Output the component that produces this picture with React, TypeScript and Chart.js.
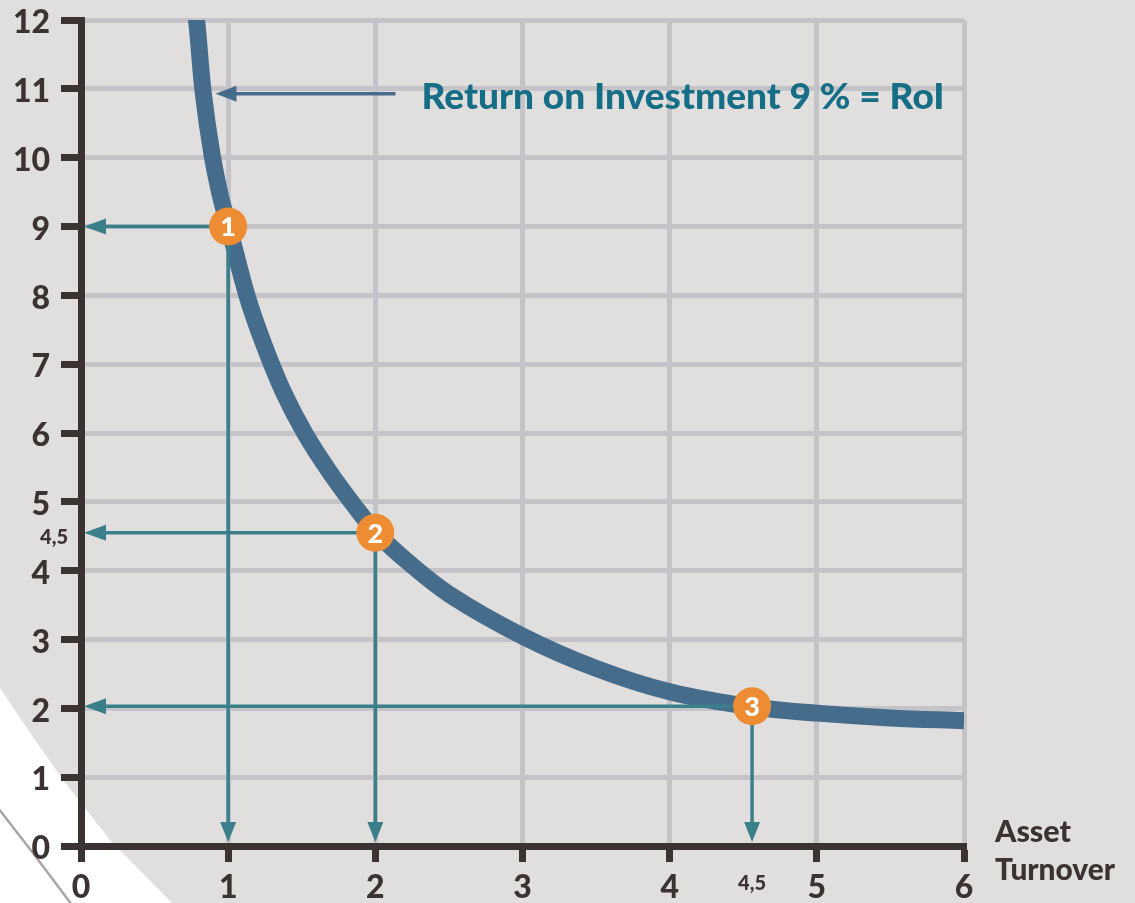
import React, { useEffect, useRef } from 'react';
import { Chart, registerables } from 'chart.js';

Chart.register(...registerables);

// ---- data ----
const curveX = [0.745, 0.785, 0.83, 0.89, 0.95, 1.0, 1.13, 1.24, 1.37, 1.52, 1.70, 1.88, 2.0, 2.17, 2.5, 3.0, 3.5, 4.0, 4.56, 5.0, 5.5, 6.0];
const curveY = [12.6, 12.0, 10.95, 10.05, 9.42, 9.03, 7.98, 7.3, 6.62, 6.0, 5.4, 4.88, 4.57, 4.22, 3.66, 3.05, 2.58, 2.24, 2.02, 1.93, 1.86, 1.82];

const markerX = [1, 2, 4.56];
const markerY = [9, 4.55, 2.03];
const markerLabels = ['1', '2', '3'];

const xTickValues = [0, 1, 2, 3, 4, 5, 6];
const yTickValues = [0, 1, 2, 3, 4, 5, 6, 7, 8, 9, 10, 11, 12];
const extraXTick = { value: 4.56, label: '4,5' };
const extraYTick = { value: 4.48, label: '4,5' };

const annotationText = 'Return on Investment 9 % = RoI';
const annotationArrowFromX = 2.137;
const annotationArrowToX = 0.914;
const annotationArrowY = 10.93;

const xAxisTitle = ['Asset', 'Turnover'];

// ---- styles ----
const BG = '#e1dede';
const AXIS = '#3b3331';
const GRID = '#c4c3c7';
const CURVE = '#466c8c';
const TEAL = '#3b7f8a';
const ANNO = '#156d86';
const ORANGE = '#ee8c33';
const FONT = 'Lato';

function fitText(ctx: CanvasRenderingContext2D, text: string, x: number, y: number, width: number) {
  const w = ctx.measureText(text).width;
  const s = width / w;
  ctx.save();
  ctx.translate(x, y);
  ctx.scale(s, 1);
  ctx.textAlign = 'left';
  ctx.fillText(text, 0, 0);
  ctx.restore();
}

function arrowHead(ctx: CanvasRenderingContext2D, tipX: number, tipY: number, dir: 'left' | 'down', len: number, half: number) {
  ctx.beginPath();
  if (dir === 'left') {
    ctx.moveTo(tipX, tipY);
    ctx.lineTo(tipX + len, tipY - half);
    ctx.lineTo(tipX + len, tipY + half);
  } else {
    ctx.moveTo(tipX, tipY);
    ctx.lineTo(tipX - half, tipY - len);
    ctx.lineTo(tipX + half, tipY - len);
  }
  ctx.closePath();
  ctx.fill();
}

const backgroundPlugin = {
  id: 'bgPlugin',
  beforeDraw(chart: any) {
    const ctx = chart.ctx as CanvasRenderingContext2D;
    const w = chart.width, h = chart.height;
    ctx.save();
    ctx.fillStyle = BG;
    ctx.fillRect(0, 0, w, h);
    ctx.fillStyle = '#ffffff';
    ctx.beginPath();
    ctx.moveTo(0, 688);
    ctx.lineTo(33, 737);
    ctx.lineTo(63, 780);
    ctx.lineTo(110, 840);
    ctx.lineTo(172, 903);
    ctx.lineTo(0, 903);
    ctx.closePath();
    ctx.fill();
    ctx.strokeStyle = '#aaa4a2';
    ctx.lineWidth = 2.5;
    ctx.beginPath();
    ctx.moveTo(-2, 808);
    ctx.lineTo(33, 853);
    ctx.lineTo(72, 905);
    ctx.stroke();
    ctx.restore();
  },
};

const overlayPlugin = {
  id: 'overlayPlugin',
  afterDatasetsDraw(chart: any) {
    const ctx = chart.ctx as CanvasRenderingContext2D;
    const xs = chart.scales.x, ys = chart.scales.y;
    const x0 = xs.getPixelForValue(0) + 3;
    const y0 = ys.getPixelForValue(0) - 4;
    ctx.save();
    // guide arrows
    ctx.strokeStyle = TEAL;
    ctx.fillStyle = TEAL;
    ctx.lineWidth = 3.5;
    markerX.forEach((mx, i) => {
      const px = xs.getPixelForValue(mx);
      const py = ys.getPixelForValue(markerY[i]);
      ctx.beginPath();
      ctx.moveTo(px, py);
      ctx.lineTo(x0 + 20, py);
      ctx.stroke();
      arrowHead(ctx, x0, py, 'left', 22, 8);
      ctx.beginPath();
      ctx.moveTo(px, py);
      ctx.lineTo(px, y0 - 18);
      ctx.stroke();
      arrowHead(ctx, px, y0, 'down', 20, 8);
    });
    // annotation arrow
    const ay = ys.getPixelForValue(annotationArrowY);
    const ax1 = xs.getPixelForValue(annotationArrowFromX);
    const ax2 = xs.getPixelForValue(annotationArrowToX);
    ctx.strokeStyle = CURVE;
    ctx.fillStyle = CURVE;
    ctx.lineWidth = 3.5;
    ctx.beginPath();
    ctx.moveTo(ax1, ay);
    ctx.lineTo(ax2 + 18, ay);
    ctx.stroke();
    arrowHead(ctx, ax2, ay, 'left', 21, 8);
    // annotation text
    ctx.fillStyle = ANNO;
    ctx.font = `900 36px ${FONT}`;
    ctx.textBaseline = 'alphabetic';
    fitText(ctx, annotationText, ax1 + 26, ay + 15, 523);
    // markers
    markerX.forEach((mx, i) => {
      const px = xs.getPixelForValue(mx);
      const py = ys.getPixelForValue(markerY[i]);
      ctx.fillStyle = ORANGE;
      ctx.beginPath();
      ctx.arc(px, py, 19, 0, Math.PI * 2);
      ctx.fill();
      ctx.fillStyle = '#ffffff';
      ctx.font = `900 27px ${FONT}`;
      ctx.textAlign = 'center';
      ctx.textBaseline = 'middle';
      ctx.fillText(markerLabels[i], px, py + 1);
    });
    ctx.restore();
  },
  afterDraw(chart: any) {
    const ctx = chart.ctx as CanvasRenderingContext2D;
    const xs = chart.scales.x, ys = chart.scales.y;
    ctx.save();
    ctx.fillStyle = AXIS;
    ctx.font = `900 20px ${FONT}`;
    ctx.textBaseline = 'middle';
    ctx.textAlign = 'right';
    ctx.fillText(extraYTick.label, 68, ys.getPixelForValue(extraYTick.value));
    ctx.textAlign = 'center';
    ctx.fillText(extraXTick.label, xs.getPixelForValue(extraXTick.value), 884);
    ctx.font = `900 30px ${FONT}`;
    ctx.textBaseline = 'alphabetic';
    fitText(ctx, xAxisTitle[0], 995, 842, 76);
    fitText(ctx, xAxisTitle[1], 995, 880, 120);
    ctx.restore();
  },
};

export default function App() {
  const ref = useRef<HTMLCanvasElement | null>(null);
  useEffect(() => {
    if (!ref.current) return;
    Chart.defaults.font.family = FONT;
    const gridColor = (c: any) => (c.tick && c.tick.value === 0 ? 'rgba(0,0,0,0)' : GRID);
    const chart = new Chart(ref.current, {
      type: 'line',
      data: {
        datasets: [
          {
            data: curveX.map((x, i) => ({ x, y: curveY[i] })),
            borderColor: CURVE,
            borderWidth: 17,
            pointRadius: 0,
            tension: 0.35,
            borderCapStyle: 'butt',
            clip: 0,
            fill: false,
          } as any,
        ],
      },
      options: {
        animation: false,
        responsive: false,
        maintainAspectRatio: false,
        layout: { padding: { top: 20, right: 171, left: 0, bottom: 0 } },
        plugins: { legend: { display: false }, tooltip: { enabled: false } },
        scales: {
          x: {
            type: 'linear',
            min: 0,
            max: 6,
            afterFit: (s: any) => { s.height = 57; s.paddingLeft = 0; s.paddingRight = 0; },
            afterBuildTicks: (s: any) => { s.ticks = xTickValues.map((v) => ({ value: v })); },
            grid: { color: gridColor, lineWidth: 5, drawTicks: true, tickLength: 16, tickWidth: 7, tickColor: AXIS },
            border: { color: AXIS, width: 7 },
            ticks: { color: AXIS, font: { family: FONT, weight: '900', size: 32 }, padding: 6, maxRotation: 0, autoSkip: false },
          },
          y: {
            type: 'linear',
            min: 0,
            max: 12,
            afterFit: (s: any) => { s.width = 81; s.paddingTop = 0; s.paddingBottom = 0; },
            afterBuildTicks: (s: any) => { s.ticks = yTickValues.map((v) => ({ value: v })); },
            grid: { color: gridColor, lineWidth: 5, drawTicks: true, tickLength: 20, tickWidth: 7, tickColor: AXIS },
            border: { color: AXIS, width: 7 },
            ticks: { color: AXIS, font: { family: FONT, weight: '900', size: 32 }, padding: 11, labelOffset: 3, autoSkip: false },
          },
        },
      } as any,
      plugins: [backgroundPlugin, overlayPlugin],
    });
    return () => chart.destroy();
  }, []);
  return (
    <div style={{ position: 'absolute', left: 0, top: 0, width: 1135, height: 903 }}>
      <canvas ref={ref} width={1135} height={903} style={{ display: 'block', width: 1135, height: 903 }} />
    </div>
  );
}
